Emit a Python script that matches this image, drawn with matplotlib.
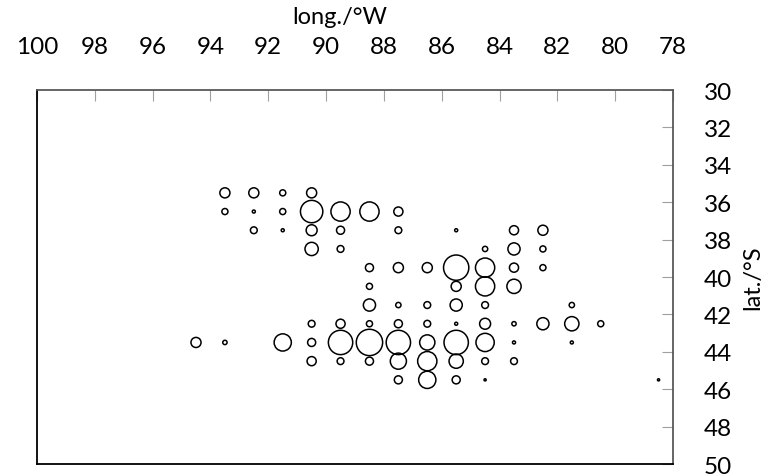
import numpy as np
import matplotlib.pyplot as plt

plt.rcParams['font.family'] = ['Lato', 'DejaVu Sans']

# bubble data: longitude (W), latitude (S), value
lon = [93.5, 92.5, 91.5, 90.5,
       93.5, 92.5, 91.5, 90.5, 89.5, 88.5, 87.5,
       92.5, 91.5, 90.5, 89.5, 87.5, 85.5, 83.5, 82.5,
       90.5, 89.5, 84.5, 83.5, 82.5,
       88.5, 87.5, 86.5, 85.5, 84.5, 83.5, 82.5,
       88.5, 85.5, 84.5, 83.5,
       88.5, 87.5, 86.5, 85.5, 84.5, 81.5,
       90.5, 89.5, 88.5, 87.5, 86.5, 85.5, 84.5, 83.5, 82.5, 81.5, 80.5,
       94.5, 93.5, 91.5, 90.5, 89.5, 88.5, 87.5, 86.5, 85.5, 84.5, 83.5, 81.5,
       90.5, 89.5, 88.5, 87.5, 86.5, 85.5, 84.5, 83.5,
       87.5, 86.5, 85.5, 84.5, 78.5]
lat = [35.5] * 4 + [36.5] * 7 + [37.5] * 8 + [38.5] * 5 + [39.5] * 7 + \
      [40.5] * 4 + [41.5] * 6 + [42.5] * 11 + [43.5] * 12 + [44.5] * 8 + [45.5] * 5
val = [11, 11, 4, 11,
       4, 1, 4, 54, 40, 40, 9,
       5, 1, 13, 7, 5, 1, 9, 11,
       19, 5, 3, 16, 4,
       7, 11, 11, 69, 40, 9, 4,
       4, 11, 40, 22,
       16, 3, 5, 16, 5, 3,
       5, 9, 4, 7, 5, 1, 13, 2, 16, 22, 4,
       11, 2, 32, 7, 64, 75, 64, 25, 64, 36, 1, 1,
       9, 5, 7, 28, 40, 22, 5, 5,
       7, 32, 7, 0.5, 0.5]

fig = plt.figure(figsize=(7.63, 4.77), dpi=100)
ax = fig.add_axes([37 / 763, 12 / 477, 636 / 763, 374 / 477])

ax.scatter(lon, lat, s=np.array(val) * 4.8, facecolors='none', edgecolors='black', linewidths=1.1)

ax.set_xlim(100, 78)
ax.set_ylim(50, 30)
ax.set_xticks(np.arange(100, 77, -2))
ax.set_yticks(np.arange(30, 51, 2))

ax.xaxis.tick_top()
ax.yaxis.tick_right()
ax.tick_params(axis='x', direction='in', length=8, color='#a0a0a0', pad=24, labelsize=17.5)
ax.tick_params(axis='y', direction='in', length=8, color='#a0a0a0', pad=22, labelsize=17.5)

for side in ['top', 'right']:
    ax.spines[side].set_color('#595959')
for side in ['bottom', 'left']:
    ax.spines[side].set_color('black')
for sp in ax.spines.values():
    sp.set_linewidth(1.3)

ax.set_xlabel('long./°W', fontsize=17)
ax.xaxis.set_label_position('top')
ax.xaxis.set_label_coords(0.476, 1.196)
ax.xaxis.label.set_verticalalignment('center')

ax.set_ylabel('lat./°S', fontsize=17)
ax.yaxis.set_label_position('right')
ax.yaxis.set_label_coords(1.125, 0.5)
ax.yaxis.label.set_rotation(90)
ax.yaxis.label.set_verticalalignment('center')

fig.savefig('out.png', dpi=100)
